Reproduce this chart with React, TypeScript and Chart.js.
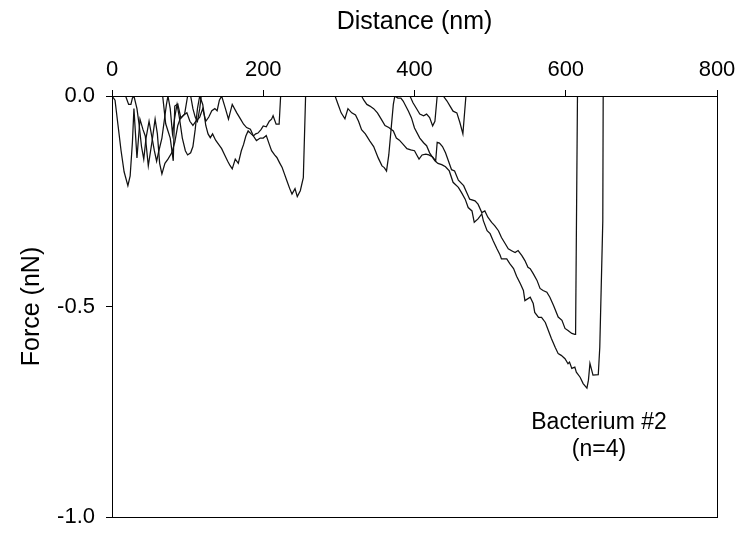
import React, { useEffect, useRef } from "react";
import { Chart, registerables } from "chart.js";

Chart.register(...registerables);

// ---- Data (distance in nm, force in nN) ----
const trace1Nm = [0,4,8,12,16,19,21,24,27,29,33,37,41,44,48,53,57,60,63,66,70,74,79,83,87,90,95,99,103,107,111,116,120,124,128,132,136,139,142,145,150,154,159,165,170,174,178,183,187,191,196,200,204,208,211,215,218,222,225,228,231,235,238,242,245,249,253,256];
const trace1Force = [0,-0.01,-0.07,-0.13,-0.18,-0.2,-0.213,-0.19,-0.11,-0.03,-0.147,-0.055,-0.08,-0.095,-0.166,-0.107,-0.055,-0.09,-0.16,-0.185,-0.16,-0.15,-0.135,-0.11,-0.07,-0.055,-0.045,-0.04,-0.06,-0.07,-0.06,-0.05,-0.03,-0.06,-0.05,-0.035,-0.03,-0.035,-0.01,0,-0.03,-0.055,-0.02,-0.04,-0.055,-0.067,-0.075,-0.079,-0.095,-0.106,-0.1,-0.1,-0.094,-0.115,-0.13,-0.14,-0.146,-0.16,-0.17,-0.185,-0.2,-0.22,-0.233,-0.22,-0.239,-0.225,-0.194,0];

const trace2Nm = [0,18,20,22,25,27,29,33,36,39,42,45,49,52,56,59,62,66,69,72,74,77,80,83,86,89,93,97,100,104,107,110,113,116,120,124,127,130,133,137,141,145,149,153,156,159,163,167,171,174,177,180,184,187,190,193,197,200,204,208,211,213,217,221,223,394,398,403,407,412,416,420,424,427,430,438,443,447,451,456,460,464,468];
const trace2Force = [0,0,-0.01,-0.02,-0.02,-0.005,0,-0.03,-0.07,-0.12,-0.15,-0.1,-0.06,-0.09,-0.13,-0.155,-0.13,-0.1,-0.06,-0.02,0,-0.03,-0.09,-0.05,-0.02,-0.05,-0.1,-0.13,-0.14,-0.135,-0.12,-0.08,-0.03,0,-0.02,-0.07,-0.09,-0.099,-0.09,-0.105,-0.115,-0.125,-0.14,-0.155,-0.165,-0.173,-0.15,-0.16,-0.13,-0.115,-0.095,-0.083,-0.09,-0.095,-0.09,-0.088,-0.08,-0.071,-0.073,-0.06,-0.055,-0.047,-0.067,-0.067,0,0,-0.016,-0.031,-0.043,-0.047,-0.043,-0.051,-0.071,-0.06,0,0,-0.012,-0.024,-0.036,-0.04,-0.063,-0.09,0];

const trace3Nm = [0,104,107,110,113,116,118,330,333,337,341,346,351,356,361,366,372,376,380,385,390,395,400,403,406,410,415,419,424,428,430,433,437,441,445,449,453,458,465,469,473,480,484,489,493,497,502,506,511,515,520,524,529,533,537,542,546,550,553,557,562,566,570,575,579,584,590,595,599,603,608,612,613,615.5];
const trace3Force = [0,0,-0.03,-0.05,-0.06,-0.03,0,0,-0.01,-0.02,-0.024,-0.03,-0.04,-0.055,-0.07,-0.075,-0.083,-0.1,-0.105,-0.115,-0.125,-0.128,-0.13,-0.14,-0.15,-0.14,-0.138,-0.14,-0.145,-0.154,-0.11,-0.112,-0.12,-0.135,-0.155,-0.175,-0.178,-0.2,-0.213,-0.229,-0.245,-0.249,-0.257,-0.277,-0.273,-0.288,-0.3,-0.308,-0.32,-0.336,-0.351,-0.363,-0.368,-0.372,-0.367,-0.379,-0.391,-0.407,-0.41,-0.422,-0.438,-0.457,-0.462,-0.466,-0.478,-0.498,-0.525,-0.533,-0.552,-0.557,-0.564,-0.566,-0.566,0];

const trace4Nm = [0,67,71,77,81,83,87,91,96,100,295,299,303,308,312,317,322,326,330,335,341,346,352,357,360,363,366,369,372,374,378,382,385,392,396,400,407,412,416,420,427,431,436,441,446,451,458,462,467,471,476,479,484,489,491,496,500,504,509,513,515,522,526,531,535,540,544,546,553,557,559,564,568,573,577,581,586,590,594,599,603,605,608,612,614,619,623,628,630,632,636,643,645,649,649.5];
const trace4Force = [0,0,-0.066,-0.1,-0.154,-0.024,-0.019,-0.052,-0.043,0,0,-0.02,-0.04,-0.054,-0.03,-0.04,-0.045,-0.06,-0.08,-0.09,-0.107,-0.12,-0.147,-0.166,-0.17,-0.178,-0.14,-0.08,-0.02,0,-0.005,-0.005,-0.012,-0.036,-0.052,-0.076,-0.1,-0.111,-0.118,-0.135,-0.154,-0.16,-0.163,-0.168,-0.178,-0.205,-0.217,-0.229,-0.245,-0.265,-0.273,-0.3,-0.292,-0.28,-0.296,-0.32,-0.327,-0.344,-0.363,-0.377,-0.387,-0.387,-0.398,-0.41,-0.428,-0.446,-0.462,-0.486,-0.478,-0.493,-0.514,-0.526,-0.526,-0.538,-0.557,-0.576,-0.597,-0.612,-0.616,-0.624,-0.636,-0.632,-0.647,-0.644,-0.656,-0.668,-0.683,-0.694,-0.675,-0.635,-0.663,-0.662,-0.597,-0.296,0];

const xTicks = [0, 200, 400, 600, 800];
const yTicks = [-1.0, -0.5, 0.0];
const xTitle = "Distance (nm)";
const yTitle = "Force (nN)";
const annotationLines = ["Bacterium #2", "(n=4)"];
const annotationX = 644;
const annotationY = [-0.777, -0.841];

const FONT = '"Liberation Sans", Arial, sans-serif';

function zip(xs: number[], ys: number[]) {
  const n = Math.min(xs.length, ys.length);
  const out: { x: number; y: number }[] = [];
  for (let i = 0; i < n; i++) out.push({ x: xs[i], y: ys[i] });
  return out;
}

const frameAndNote = {
  id: "frameAndNote",
  afterDraw(chart: any) {
    const { ctx, chartArea } = chart;
    const l = Math.round(chartArea.left) + 0.5;
    const t = Math.round(chartArea.top) + 0.5;
    const r = Math.round(chartArea.right) + 0.5;
    const b = Math.round(chartArea.bottom) + 0.5;
    ctx.save();
    ctx.strokeStyle = "#000";
    ctx.lineWidth = 1;
    ctx.strokeRect(l, t, r - l, b - t);
    ctx.fillStyle = "#000";
    ctx.font = `23px ${FONT}`;
    ctx.textAlign = "center";
    ctx.textBaseline = "middle";
    const xs = chart.scales.x;
    const ys = chart.scales.y;
    annotationLines.forEach((txt, i) => {
      ctx.fillText(txt, xs.getPixelForValue(annotationX), ys.getPixelForValue(annotationY[i]));
    });
    ctx.restore();
  },
};

function noPad(s: any) {
  s.paddingTop = 0;
  s.paddingBottom = 0;
  s.paddingLeft = 0;
  s.paddingRight = 0;
}

export default function App() {
  const ref = useRef<HTMLCanvasElement | null>(null);
  useEffect(() => {
    if (!ref.current) return;
    const traces = [
      zip(trace1Nm, trace1Force),
      zip(trace2Nm, trace2Force),
      zip(trace3Nm, trace3Force),
      zip(trace4Nm, trace4Force),
    ];
    const chart = new Chart(ref.current, {
      type: "line",
      data: {
        datasets: traces.map((d, i) => ({
          label: `Curve ${i + 1}`,
          data: d,
          borderColor: "#111",
          borderWidth: 1.25,
          pointRadius: 0,
          fill: false,
          tension: 0,
        })),
      },
      options: {
        animation: false,
        responsive: false,
        devicePixelRatio: 1,
        layout: { padding: { left: 0, top: 0, right: 24, bottom: 16 } },
        plugins: { legend: { display: false }, tooltip: { enabled: false } },
        scales: {
          x: {
            type: "linear",
            position: "top",
            min: 0,
            max: 800,
            afterBuildTicks: (s: any) => {
              s.ticks = xTicks.map((v) => ({ value: v }));
            },
            ticks: {
              color: "#000",
              font: { family: FONT, size: 22 },
              padding: 7,
              maxRotation: 0,
              callback: (v: any) => String(v),
            },
            grid: { display: true, drawOnChartArea: false, drawTicks: true, tickLength: 6, color: "#000" },
            border: { display: true, color: "#000", width: 1 },
            title: {
              display: true,
              text: xTitle,
              color: "#000",
              font: { family: FONT, size: 25 },
              padding: { top: 7, bottom: 0 },
            },
            afterFit: (s: any) => {
              s.height = 96;
              noPad(s);
            },
          },
          y: {
            type: "linear",
            min: -1,
            max: 0,
            afterBuildTicks: (s: any) => {
              s.ticks = yTicks.map((v) => ({ value: v }));
            },
            ticks: {
              color: "#000",
              font: { family: FONT, size: 22 },
              padding: 11,
              callback: (v: any) => Number(v).toFixed(1),
            },
            grid: { display: true, drawOnChartArea: false, drawTicks: true, tickLength: 6, color: "#000" },
            border: { display: true, color: "#000", width: 1 },
            title: {
              display: true,
              text: yTitle,
              color: "#000",
              font: { family: FONT, size: 25 },
              padding: { top: 17, bottom: 0 },
            },
            afterFit: (s: any) => {
              s.width = 112;
              noPad(s);
            },
          },
        },
      },
      plugins: [frameAndNote],
    });
    return () => chart.destroy();
  }, []);
  return (
    <div style={{ position: "fixed", left: 0, top: 0, width: 741, height: 533, background: "#fff" }}>
      <canvas ref={ref} width={741} height={533} style={{ display: "block" }} />
    </div>
  );
}
